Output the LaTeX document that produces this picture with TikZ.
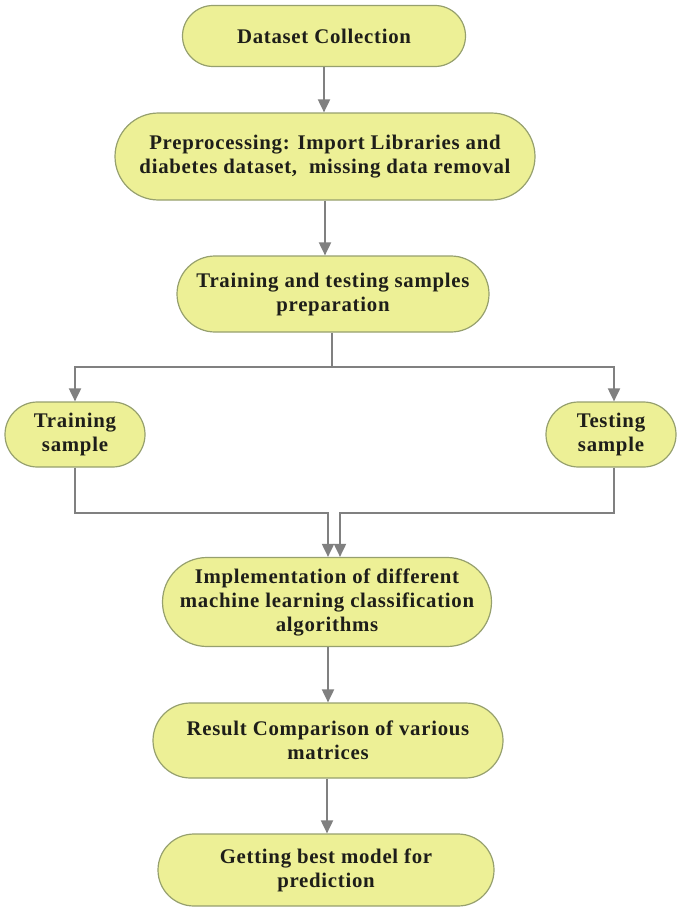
\documentclass[tikz,border=0pt]{standalone}
\usepackage{fontspec}
\setmainfont{Liberation Serif}
\usetikzlibrary{shapes.misc,arrows.meta}
\definecolor{boxfill}{RGB}{237,240,150}
\definecolor{boxline}{RGB}{150,160,110}
\definecolor{wirecol}{RGB}{128,128,128}
\definecolor{ink}{RGB}{30,30,25}
\begin{document}
\begin{tikzpicture}[x=1pt,y=-1pt,
  stage/.style={rounded rectangle, draw=boxline, line width=1.2pt, fill=boxfill,
    text=ink, align=center, inner sep=0pt,
    font=\fontsize{20.8}{24}\selectfont\bfseries\addfontfeatures{LetterSpace=3.5}},
  link/.style={draw=wirecol, line width=1.9pt},
  flow/.style={link, -{Triangle[length=13pt,width=12pt]}}]
\useasboundingbox (0,0) rectangle (677,907);

% process stages
\node[stage, minimum width=283pt, minimum height=61pt] (collect) at (324,36) {Dataset Collection};
\node[stage, minimum width=420pt, minimum height=87pt] (prep) at (325,156.5)
  {Preprocessing: Import Libraries and\\diabetes dataset,~ missing data removal};
\node[stage, minimum width=312pt, minimum height=76pt] (split) at (333,294)
  {Training and testing samples\\preparation};
\node[stage, minimum width=140pt, minimum height=65pt] (train) at (75,434.5) {Training\\sample};
\node[stage, minimum width=130pt, minimum height=65pt] (test) at (611,434.5) {Testing\\sample};
\node[stage, minimum width=329pt, minimum height=89pt] (impl) at (327,602)
  {Implementation of different\\machine learning classification\\algorithms};
\node[stage, minimum width=350pt, minimum height=75pt] (result) at (328,740.5)
  {Result Comparison of various\\matrices};
\node[stage, minimum width=336pt, minimum height=72pt] (best) at (326,870)
  {Getting best model for\\prediction};

% routing points
\coordinate (fork) at (332,367);
\coordinate (tapR) at (614,0);
\coordinate (joinL) at (328,513);
\coordinate (joinR) at (340,513);

% connectors
\draw[flow] (collect.south) -- (prep.north -| collect.south);
\draw[flow] (prep.south) -- (split.north -| prep.south);
\draw[link] (split.south -| fork) -- (fork);
\draw[flow] (fork) -| (train.north);
\draw[flow] (fork) -| (test.north -| tapR);
\draw[flow] (train.south) |- (joinL) -- (impl.north -| joinL);
\draw[flow] (test.south -| tapR) |- (joinR) -- (impl.north -| joinR);
\draw[flow] (impl.south -| joinL) -- (result.north -| joinL);
\draw[flow] (result.south -| 327,0) -- (best.north -| 327,0);
\end{tikzpicture}
\end{document}
